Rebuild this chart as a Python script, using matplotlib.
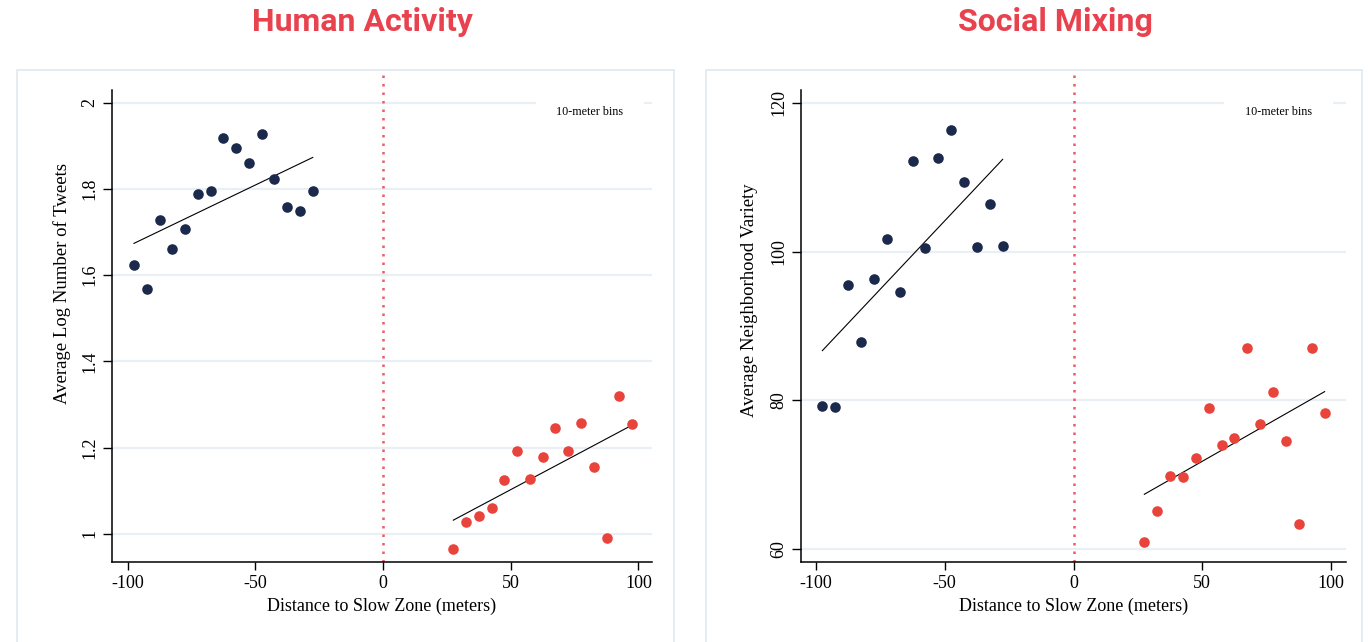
import numpy as np
import matplotlib
matplotlib.use("Agg")
import matplotlib.pyplot as plt
from matplotlib.patches import Rectangle

# ---- data -------------------------------------------------------------
bins_inside = [-97.5, -92.5, -87.5, -82.5, -77.5, -72.5, -67.5, -62.5,
               -57.5, -52.5, -47.5, -42.5, -37.5, -32.5, -27.5]
bins_outside = [27.5, 32.5, 37.5, 42.5, 47.5, 52.5, 57.5, 62.5,
                67.5, 72.5, 77.5, 82.5, 87.5, 92.5, 97.5]

tweets_inside = [1.623, 1.569, 1.729, 1.660, 1.708, 1.789, 1.796, 1.917,
                 1.896, 1.861, 1.928, 1.822, 1.759, 1.748, 1.796]
tweets_outside = [0.966, 1.028, 1.042, 1.059, 1.125, 1.191, 1.127, 1.178,
                  1.245, 1.191, 1.258, 1.154, 0.991, 1.320, 1.254]

variety_inside = [79.2, 79.15, 95.5, 87.9, 96.3, 101.7, 94.55, 112.2,
                  100.45, 112.6, 116.35, 109.3, 100.65, 106.4, 100.8]
variety_outside = [61.0, 65.1, 69.85, 69.75, 72.25, 78.95, 74.05, 74.9,
                   87.0, 76.85, 81.15, 74.6, 63.35, 87.1, 78.35]

titles = ["Human Activity", "Social Mixing"]
ylabels = ["Average Log Number of Tweets", "Average Neighborhood Variety"]
xlabel = "Distance to Slow Zone (meters)"
xticks = [-100, -50, 0, 50, 100]
xtick_labels = ["-100", "-50", "0", "50", "100"]
yticks_tweets = [1.0, 1.2, 1.4, 1.6, 1.8, 2.0]
ytick_labels_tweets = ["1", "1.2", "1.4", "1.6", "1.8", "2"]
yticks_variety = [60, 80, 100, 120]
ytick_labels_variety = ["60", "80", "100", "120"]
note = "10-meter bins"

# ---- style ------------------------------------------------------------
W, H = 1370, 642
NAVY = "#1b2a4c"
RED = "#e8443b"
TITLE_RED = "#e8424f"
ZERO_LINE = "#ef5a63"
GRID = "#e9eff4"
FRAME = "#e3ebf0"
SERIF = ["Liberation Serif", "DejaVu Serif"]
SANS = ["Roboto", "DejaVu Sans"]
TICK_FS = 13
LABEL_FS = 13


def fx(px):
    return px / W


def fy(py):
    return 1 - py / H


fig = plt.figure(figsize=(W / 100, H / 100), dpi=100)
fig.patch.set_facecolor("white")

panels = [
    dict(x0=112, x1=652, frame=(17, 674), title_x=362, ylabel_xy=(62, 283),
         xlim=(-106.1, 105.3), ylim=(0.934, 2.0712), spine_top=2.0294,
         yticks=yticks_tweets, yticklabels=ytick_labels_tweets,
         inside=tweets_inside, outside=tweets_outside, note_box=(536, 644)),
    dict(x0=801, x1=1346, frame=(706, 1362), title_x=1055, ylabel_xy=(750, 300),
         xlim=(-105.8, 105.8), ylim=(58.25, 124.12), spine_top=121.71,
         yticks=yticks_variety, yticklabels=ytick_labels_variety,
         inside=variety_inside, outside=variety_outside, note_box=(1224, 1333)),
]

top_px, bottom_px = 72, 562.3

for i, p in enumerate(panels):
    # light outer frame of each panel
    f0, f1 = p["frame"]
    fig.patches.append(Rectangle((fx(f0), fy(660)), fx(f1 - f0), (660 - 70) / H,
                                 transform=fig.transFigure, fill=False,
                                 edgecolor=FRAME, linewidth=1.3, zorder=-1))

    ax = fig.add_axes([fx(p["x0"]), fy(bottom_px), fx(p["x1"] - p["x0"]),
                       (bottom_px - top_px) / H])
    ax.set_xlim(*p["xlim"])
    ax.set_ylim(*p["ylim"])

    for side in ("top", "right"):
        ax.spines[side].set_visible(False)
    for side in ("left", "bottom"):
        ax.spines[side].set_linewidth(1.1)
        ax.spines[side].set_color("black")
    ax.spines["left"].set_bounds(p["ylim"][0], p["spine_top"])

    ax.set_xticks(xticks)
    ax.set_xticklabels(xtick_labels, fontfamily=SERIF, fontsize=TICK_FS)
    ax.set_yticks(p["yticks"])
    ax.set_yticklabels(p["yticklabels"], fontfamily=SERIF, fontsize=TICK_FS,
                       rotation=90, va="center")
    ax.tick_params(axis="x", length=6, width=1.0, pad=3, color="black")
    ax.tick_params(axis="y", length=6.5, width=1.0, pad=3.5, color="black")

    ax.grid(axis="y", color=GRID, linewidth=1.6)
    ax.set_axisbelow(True)

    # cut-off line at the slow zone boundary
    ax.axvline(0, color=ZERO_LINE, linewidth=1.8, linestyle=(0, (1, 2.4)),
               zorder=1)

    # binned means on both sides with linear fits
    for xs, ys, col in ((bins_inside, p["inside"], NAVY),
                        (bins_outside, p["outside"], RED)):
        xs = np.asarray(xs)
        ys = np.asarray(ys)
        ax.scatter(xs, ys, s=58, color=col, linewidths=0, zorder=3)
        slope, icpt = np.polyfit(xs, ys, 1)
        xx = np.array([xs.min(), xs.max()])
        ax.plot(xx, slope * xx + icpt, color="black", linewidth=0.8, zorder=2)

    fig.text(fx((p["x0"] + p["x1"]) / 2), fy(606), xlabel,
             fontfamily=SERIF, fontsize=LABEL_FS, ha="center", va="center")

    fig.text(fx(p["ylabel_xy"][0]), fy(p["ylabel_xy"][1]), ylabels[i],
             fontfamily=SERIF, fontsize=13.5, rotation=90,
             ha="center", va="center")

    # note box in the upper right corner
    n0, n1 = p["note_box"]
    fig.patches.append(Rectangle((fx(n0), fy(128)), fx(n1 - n0), 32 / H,
                                 transform=fig.transFigure, facecolor="white",
                                 edgecolor="none", zorder=1))
    fig.text(fx((n0 + n1) / 2), fy(112), note, fontfamily=SERIF,
             fontsize=8.7, ha="center", va="center", zorder=2)

    fig.text(fx(p["title_x"]), fy(22), titles[i], fontfamily=SANS,
             fontsize=23, fontweight="bold", color=TITLE_RED,
             ha="center", va="center")

fig.savefig("out.png", dpi=100, facecolor="white")
